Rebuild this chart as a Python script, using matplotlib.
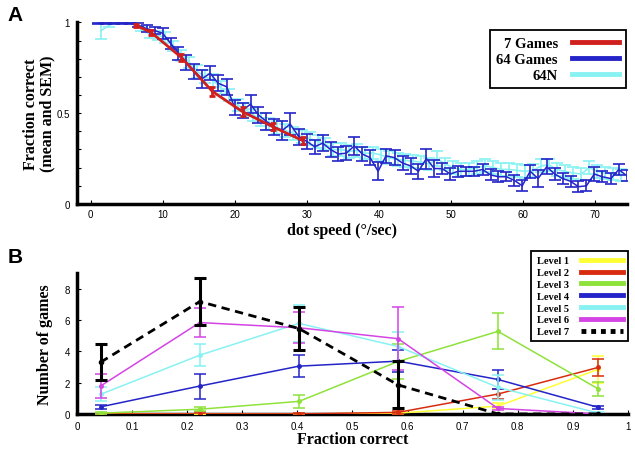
import matplotlib
matplotlib.use("Agg")
import matplotlib.pyplot as plt
from matplotlib.lines import Line2D

# ---------------- Panel A data ----------------
speed_64 = [1.1, 2.2, 3.3, 4.4, 5.5, 6.6, 7.8, 8.9, 10.0, 11.1, 12.2, 13.3, 14.4, 15.5,
            16.6, 17.7, 18.9, 20.0, 21.1, 22.2, 23.3, 24.4, 25.5, 26.6, 27.7, 28.9,
            30.0, 31.1, 32.2, 33.3, 34.4, 35.5, 36.6, 37.7, 38.8, 39.9, 41.0, 42.2,
            43.3, 44.4, 45.5, 46.6, 47.7, 48.8, 49.9, 51.0, 52.1, 53.2, 54.4, 55.5,
            56.6, 57.7, 58.8, 59.9, 61.0, 62.1, 63.3, 64.4, 65.5, 66.6, 67.7, 68.8,
            69.9, 71.0, 72.2, 73.3, 74.4]
frac_64 = [0.995, 0.995, 0.995, 0.995, 0.995, 0.985, 0.965, 0.955, 0.94, 0.885, 0.83,
           0.78, 0.73, 0.69, 0.72, 0.665, 0.645, 0.53, 0.515, 0.55, 0.49, 0.455, 0.425,
           0.405, 0.44, 0.37, 0.345, 0.315, 0.335, 0.30, 0.275, 0.28, 0.32, 0.275, 0.255,
           0.18, 0.265, 0.255, 0.225, 0.21, 0.18, 0.25, 0.195, 0.195, 0.165, 0.18, 0.18,
           0.18, 0.19, 0.16, 0.15, 0.15, 0.13, 0.10, 0.18, 0.14, 0.205, 0.165, 0.14,
           0.125, 0.095, 0.10, 0.165, 0.15, 0.14, 0.19, 0.155]
sem_64 = [0.004, 0.004, 0.004, 0.004, 0.004, 0.01, 0.02, 0.02, 0.03, 0.03, 0.035, 0.04,
          0.04, 0.05, 0.04, 0.045, 0.045, 0.04, 0.04, 0.05, 0.045, 0.045, 0.045, 0.05,
          0.06, 0.045, 0.04, 0.04, 0.045, 0.04, 0.04, 0.04, 0.05, 0.04, 0.04, 0.05, 0.04,
          0.04, 0.04, 0.045, 0.04, 0.055, 0.045, 0.03, 0.035, 0.03, 0.025, 0.025, 0.03,
          0.03, 0.03, 0.025, 0.03, 0.03, 0.035, 0.045, 0.04, 0.035, 0.03, 0.03, 0.03,
          0.03, 0.04, 0.03, 0.03, 0.03, 0.03]

speed_64n = [1.5, 2.6, 3.7, 4.8, 5.9, 7.0, 8.2, 9.3, 10.4, 11.5, 12.6, 13.7, 14.8, 15.9,
             17.0, 18.1, 19.2, 20.4, 21.5, 22.6, 23.7, 24.8, 25.9, 27.0, 28.1, 29.3,
             30.4, 31.5, 32.6, 33.7, 34.8, 35.9, 37.0, 38.1, 39.2, 40.3, 41.4, 42.6,
             43.7, 44.8, 45.9, 47.0, 48.1, 49.2, 50.3, 51.4, 52.5, 53.6, 54.8, 55.9,
             57.0, 58.1, 59.2, 60.3, 61.4, 62.5, 63.6, 64.7, 65.8, 67.0, 68.1, 69.2,
             70.3, 71.4, 72.5, 73.6]
frac_64n = [0.955, 0.985, 1.0, 1.0, 0.995, 0.965, 0.935, 0.93, 0.915, 0.87, 0.82, 0.78,
            0.73, 0.70, 0.68, 0.64, 0.60, 0.545, 0.52, 0.49, 0.465, 0.44, 0.42, 0.405,
            0.39, 0.37, 0.36, 0.345, 0.33, 0.30, 0.30, 0.29, 0.295, 0.28, 0.28, 0.27,
            0.255, 0.245, 0.24, 0.235, 0.23, 0.22, 0.25, 0.22, 0.20, 0.19, 0.19, 0.20,
            0.21, 0.20, 0.19, 0.19, 0.185, 0.18, 0.185, 0.21, 0.215, 0.19, 0.18, 0.17,
            0.165, 0.20, 0.18, 0.17, 0.165, 0.16]
sem_64n = [0.045, 0.01, 0.005, 0.005, 0.005, 0.015, 0.02, 0.025, 0.03, 0.03, 0.03, 0.03,
           0.035, 0.035, 0.035, 0.035, 0.035, 0.035, 0.035, 0.035, 0.035, 0.035, 0.035,
           0.035, 0.035, 0.035, 0.035, 0.035, 0.035, 0.035, 0.035, 0.035, 0.035, 0.035,
           0.035, 0.035, 0.035, 0.035, 0.035, 0.035, 0.035, 0.035, 0.04, 0.035, 0.035,
           0.035, 0.035, 0.035, 0.035, 0.035, 0.035, 0.035, 0.035, 0.035, 0.035, 0.035,
           0.035, 0.035, 0.035, 0.035, 0.035, 0.035, 0.035, 0.035, 0.035, 0.035]

speed_7 = [6.3, 8.4, 12.6, 16.9, 21.1, 25.3, 29.5]
frac_7 = [0.983, 0.945, 0.807, 0.62, 0.508, 0.425, 0.348]
sem_7 = [0.01, 0.012, 0.02, 0.025, 0.025, 0.02, 0.02]

# ---------------- Panel B data ----------------
bins = [0.043, 0.223, 0.403, 0.583, 0.764, 0.946]
level_names = ["Level 1", "Level 2", "Level 3", "Level 4", "Level 5", "Level 6", "Level 7"]
level_vals = [
    [0.0, 0.0, 0.0, 0.05, 0.5, 2.85],
    [0.0, 0.0, 0.0, 0.1, 1.27, 2.97],
    [0.05, 0.3, 0.8, 3.35, 5.27, 1.6],
    [0.45, 1.78, 3.05, 3.37, 2.2, 0.42],
    [1.25, 3.75, 5.78, 4.3, 1.7, 0.05],
    [1.78, 5.83, 5.5, 4.8, 0.35, 0.0],
    [3.3, 7.17, 5.45, 1.85, 0.0, 0.0],
]
level_err = [
    [0.0, 0.0, 0.0, 0.05, 0.2, 0.85],
    [0.0, 0.1, 0.05, 0.1, 0.3, 0.55],
    [0.05, 0.12, 0.42, 1.1, 1.15, 0.45],
    [0.15, 0.8, 0.7, 0.7, 0.6, 0.1],
    [0.45, 0.7, 1.2, 0.9, 0.8, 0.05],
    [0.75, 0.9, 1.0, 2.0, 0.1, 0.0],
    [1.15, 1.5, 1.4, 1.5, 0.0, 0.0],
]
level_colors = ["#ffff33", "#d82c10", "#8ee23a", "#2424c8", "#88f2f2", "#d444e4", "#000000"]

# ---------------- Figure ----------------
serif = ["Liberation Serif", "DejaVu Serif"]
sans = ["Liberation Sans", "DejaVu Sans"]
plt.rcParams["font.family"] = sans

fig = plt.figure(figsize=(6.35, 4.52), dpi=100)

# Panel A
axA = fig.add_axes([0.121, 0.5465, 0.866, 0.403])
axA.errorbar(speed_64n, frac_64n, yerr=sem_64n, color="#88f2f2", lw=1.2,
             elinewidth=1.2, capsize=4, capthick=1.2, zorder=1)
axA.errorbar(speed_64, frac_64, yerr=sem_64, color="#2424c8", lw=1.1,
             elinewidth=1.2, capsize=4, capthick=1.2, zorder=2)
axA.errorbar(speed_7, frac_7, yerr=sem_7, color="#d0201e", lw=2.0,
             elinewidth=2.0, capsize=2, capthick=2.0, zorder=3)
axA.set_xlim(-1.9, 74.4)
axA.set_ylim(0, 1.003)
axA.set_xticks([0, 10, 20, 30, 40, 50, 60, 70])
axA.set_yticks([0, 0.5, 1])
axA.set_yticklabels(["0", "0.5", "1"])
axA.set_yticks([0.1, 0.2, 0.3, 0.4, 0.6, 0.7, 0.8, 0.9], minor=True)
axA.set_xlabel("dot speed (°/sec)", family=serif, fontweight="bold", fontsize=11.5,
               labelpad=-1)
axA.xaxis.set_label_coords(0.482, -0.1)
axA.set_ylabel("Fraction correct\n(mean and SEM)", family=serif, fontweight="bold",
               fontsize=11.5, labelpad=1, linespacing=1.05)
legA = [Line2D([], [], color="#d0201e", lw=3.5),
        Line2D([], [], color="#2424c8", lw=3.5),
        Line2D([], [], color="#88f2f2", lw=3.5)]
lg = axA.legend(legA, ["7 Games", "64 Games", "64N"], loc="upper right",
                bbox_to_anchor=(0.998, 0.956), borderaxespad=0, markerfirst=False,
                fancybox=False, framealpha=1, edgecolor="black", handlelength=3.2,
                handletextpad=1.0, borderpad=0.45, labelspacing=0.2,
                prop={"family": serif, "weight": "bold", "size": 10.5})
lg.get_frame().set_linewidth(1.3)

# Panel B
axB = fig.add_axes([0.121, 0.082, 0.868, 0.312])
for i, (name, vals, errs, col) in enumerate(zip(level_names, level_vals, level_err, level_colors)):
    if name == "Level 7":
        axB.errorbar(bins, vals, yerr=errs, color=col, lw=2.0, ls=(0, (3, 2)),
                     elinewidth=2.2, capsize=4, capthick=2.2, marker="o", ms=3,
                     zorder=3 + i)
    else:
        axB.errorbar(bins, vals, yerr=errs, color=col, lw=1.1, elinewidth=1.1,
                     capsize=4, capthick=1.1, marker="o", ms=2.5, zorder=3 + i)
axB.set_xlim(0, 1)
axB.set_ylim(0, 9)
axB.set_xticks([0, 0.1, 0.2, 0.3, 0.4, 0.5, 0.6, 0.7, 0.8, 0.9, 1])
axB.set_xticklabels(["0", "0.1", "0.2", "0.3", "0.4", "0.5", "0.6", "0.7", "0.8", "0.9", "1"])
axB.set_yticks([0, 2, 4, 6, 8])
axB.set_xlabel("Fraction correct", family=serif, fontweight="bold", fontsize=11.5,
               labelpad=0)
axB.set_ylabel("Number of games", family=serif, fontweight="bold", fontsize=11.5,
               labelpad=8)
legB = []
for name, col in zip(level_names, level_colors):
    if name == "Level 7":
        legB.append(Line2D([], [], color=col, lw=3.5, ls=(0, (1, 1))))
    else:
        legB.append(Line2D([], [], color=col, lw=3.5))
lgB = axB.legend(legB, level_names, loc="upper right", bbox_to_anchor=(1.0, 1.156),
                 borderaxespad=0, markerfirst=False, fancybox=False, framealpha=1,
                 edgecolor="black", handlelength=4.0, handletextpad=1.2, borderpad=0.5,
                 labelspacing=0.24, prop={"family": serif, "weight": "bold", "size": 7.5})
lgB.get_frame().set_linewidth(1.3)

for ax in (axA, axB):
    for s in ("top", "right"):
        ax.spines[s].set_visible(False)
    for s in ("left", "bottom"):
        ax.spines[s].set_linewidth(2.5)
    ax.tick_params(which="both", direction="in", labelsize=7, length=3, width=0.8)
    ax.tick_params(which="minor", length=3)
axA.tick_params(axis="x", pad=3.5)
axA.tick_params(axis="y", pad=5)
axB.tick_params(axis="both", pad=5)

fig.text(0.012, 0.965, "A", fontsize=15, fontweight="bold", va="center", ha="left")
fig.text(0.012, 0.43, "B", fontsize=15, fontweight="bold", va="center", ha="left")

fig.savefig("out.png", dpi=100)
